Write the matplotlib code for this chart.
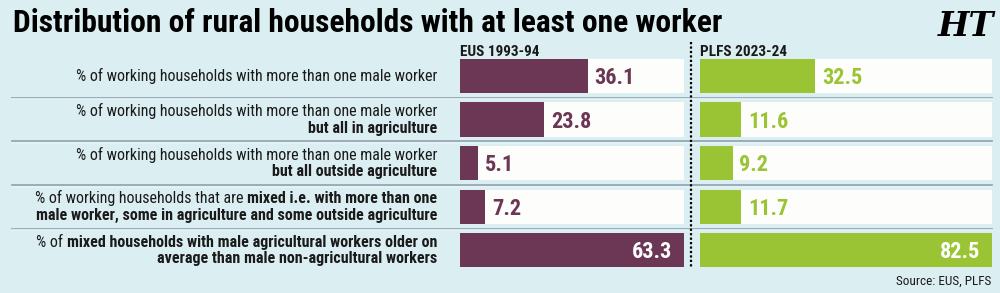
import matplotlib
matplotlib.use("Agg")
import matplotlib.pyplot as plt
from matplotlib import font_manager as fm

# data
categories = ["row1", "row2", "row3", "row4", "row5"]
eus_1993 = [36.1, 23.8, 5.1, 7.2, 63.3]
plfs_2023 = [32.5, 11.6, 9.2, 11.7, 82.5]
series_names = ["EUS 1993-94", "PLFS 2023-24"]

# label lines, each a list of (text, bold) pieces
row_labels = [
    [[("% of working households with more than one male worker", False)]],
    [[("% of working households with more than one male worker", False)],
     [("but all in agriculture", True)]],
    [[("% of working households with more than one male worker", False)],
     [("but all outside agriculture", True)]],
    [[("% of working households that are", False), ("mixed i.e. with more than one", True)],
     [("male worker, some in agriculture and some outside agriculture", True)]],
    [[("% of", False), ("mixed households with male agricultural workers older on", True)],
     [("average than male non-agricultural workers", True)]],
]

title = "Distribution of rural households with at least one worker"
source = "Source: EUS, PLFS"

# colours
BG = "#dbeef2"
MAROON = "#6c3754"
GREEN = "#9ac434"
SEP = "#93a9b3"
INK = "#1a1a1a"

# pick a condensed face if one is installed
names = {f.name for f in fm.fontManager.ttflist}
FONT = "Roboto"
for cand in ["Roboto Condensed", "Liberation Sans Narrow", "Open Sans Condensed",
             "DejaVu Sans Condensed", "Noto Sans Condensed"]:
    if cand in names:
        FONT = cand
        break
plt.rcParams["font.family"] = [FONT, "DejaVu Sans"]

W, H = 1000, 293
fig = plt.figure(figsize=(W / 100, H / 100), dpi=100, facecolor=BG)

# pixel-space overlay for text and rules
bg = fig.add_axes([0, 0, 1, 1])
bg.set_xlim(0, W)
bg.set_ylim(H, 0)
bg.axis("off")
bg.patch.set_alpha(0)

top, pitch = 54.1, 43.6
n = len(categories)
row_c = [top + pitch * (i + 0.5) for i in range(n)]


def px_axes(x0, x1):
    return fig.add_axes([x0 / W, 1 - (top + pitch * n) / H, (x1 - x0) / W, pitch * n / H])


panels = [(px_axes(460, 683.7), eus_1993, MAROON),
          (px_axes(700, 991.7), plfs_2023, GREEN)]

for ax, vals, col in panels:
    ypos = range(len(vals))
    vmax = max(vals)
    ax.barh(ypos, [vmax] * len(vals), height=0.78, color="#fdfefb", zorder=1)
    ax.barh(ypos, vals, height=0.78, color=col, zorder=2)
    ax.set_xlim(0, vmax)
    ax.set_ylim(n - 0.5, -0.5)
    ax.axis("off")
    ax.patch.set_alpha(0)
    for y, v in zip(ypos, vals):
        if v == vmax:
            ax.annotate(f"{v}", (v, y), xytext=(-8, -5.8), textcoords="offset points",
                        ha="right", va="baseline", color="white",
                        fontsize=16, fontweight="bold", zorder=3)
        else:
            ax.annotate(f"{v}", (v, y), xytext=(5, -5.8), textcoords="offset points",
                        ha="left", va="baseline", color=col,
                        fontsize=16, fontweight="bold", zorder=3)

# separators between rows
for i in range(1, n):
    yy = top + pitch * i
    bg.plot([12, 992], [yy, yy], color=SEP, lw=1.3, zorder=0)
    bg.plot([12, 992], [yy + 1.6, yy + 1.6], color="#e6f4f7", lw=1.2, zorder=0)

# dotted divider between the two panels
bg.plot([691, 691], [42, 267], color="black", lw=1.6, ls=(0, (1, 1)), zorder=5)

# headers
bg.text(460.5, 55.7, series_names[0], fontsize=11, fontweight="bold", color=INK, va="baseline")
bg.text(700.5, 55.7, series_names[1], fontsize=11, fontweight="bold", color=INK, va="baseline")

# title, sized to its width in the original
t = bg.text(13, 32, title, fontsize=22, fontweight="bold", color="black", va="baseline")
fig.canvas.draw()
r = fig.canvas.get_renderer()
tw = t.get_window_extent(r).width
t.set_fontsize(22 * 708 / tw)

# logo
bg.text(966, 36, "HT", fontsize=24, fontweight="bold", family="DejaVu Serif",
        style="italic", ha="center", va="baseline", color="black")

# row labels, right aligned with mixed weights
label_x = 437
for yc, lines in zip(row_c, row_labels):
    base = [yc + 5.5] if len(lines) == 1 else [yc - 3.5, yc + 13]
    for yb, pieces in zip(base, lines):
        x = label_x
        for txt, bold in reversed(pieces):
            tt = bg.text(x, yb, txt, fontsize=11.5, ha="right", va="baseline", color=INK,
                         fontweight="bold" if bold else "normal")
            x -= tt.get_window_extent(r).width + 3.8

# source
bg.text(991, 285, source, fontsize=9.5, ha="right", va="baseline", color=INK)

fig.savefig("out.png", dpi=100, facecolor=BG)
